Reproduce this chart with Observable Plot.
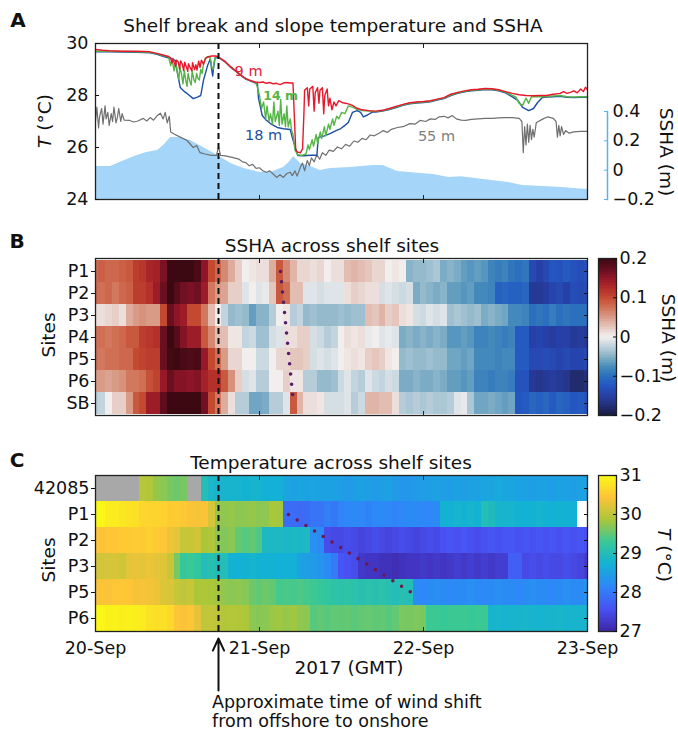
<!DOCTYPE html>
<html><head><meta charset="utf-8">
<script src="https://cdn.jsdelivr.net/npm/d3@7"></script>
<script src="https://cdn.jsdelivr.net/npm/@observablehq/plot@0.6"></script>
<style>
html,body{margin:0;padding:0;background:#fff;}
#fig{position:relative;width:678px;height:732px;font-family:"DejaVu Sans",sans-serif;color:#111;overflow:hidden}
#fig svg{position:absolute;left:0;top:0}
.lbl{position:absolute;white-space:nowrap;line-height:1;transform:translate(-50%,-50%);font-size:18.5px}
.rotL{transform:translate(-50%,-50%) rotate(-90deg)}
.rotR{transform:translate(-50%,-50%) rotate(90deg)}
.ann{position:absolute;white-space:nowrap;line-height:0.9;transform:translate(0,-50%);font-size:17.5px}
.panel{font-weight:bold;font-size:20px}
</style></head><body><div id="fig"></div><script>
// ---------------- DATA ----------------
const shiftHour = 18; // approximate wind shift (hours after 20-Sep 00:00 GMT)
// Panel A: [hour, value]
const ssha = [[0,0.025],[2.2,0.025],[4,0.06],[6.1,0.1],[7.5,0.12],[9.1,0.134],[10,0.17],[11,0.223],[12.4,0.223],[13.9,0.202],[15.8,0.154],[17.9,0.1],[19.8,0.045],[21.7,0.011],[24.1,-0.016],[25.6,-0.016],[27.5,0.018],[28.3,0.05],[29,0.093],[30,0.045],[31.5,0.025],[32.9,-0.002],[34.4,0.011],[37.3,0.018],[39,0.025],[40.7,0.032],[42.1,0.032],[44.2,-0.009],[46,-0.016],[47.6,-0.023],[49.5,-0.03],[51.7,-0.05],[53.5,-0.045],[55.6,-0.057],[58,-0.07],[60.4,-0.084],[62.5,-0.105],[65.4,-0.111],[68.3,-0.118],[70,-0.125],[72,-0.132]];
const t9m = [[0,29.77],[1,29.74],[2,29.72],[3,29.71],[4,29.7],[5,29.7],[6,29.7],[7,29.69],[8,29.68],[9,29.62],[10,29.55],[10.7,29.5],[11.0,29.45],[11.2,29.25],[11.35,29.42],[11.7,29.12],[11.85,29.36],[12.1,29.3],[12.3,29.02],[12.45,29.33],[12.7,29.2],[12.9,28.96],[13.05,29.28],[13.3,29.1],[13.5,28.93],[13.6,29.22],[13.9,29.05],[14.1,28.95],[14.2,29.26],[14.5,29.0],[14.7,29.18],[14.85,28.98],[15.1,29.32],[15.3,29.08],[15.5,29.36],[15.8,29.2],[16.1,29.42],[16.4,29.48],[17,29.52],[17.6,29.52],[18,29.48],[19,29.3],[19.8,29.1],[20.5,28.95],[21.2,28.8],[22,28.65],[22.7,28.57],[23.4,28.52],[24,28.5],[24.5,28.52],[25,28.47],[25.5,28.5],[26,28.45],[26.5,28.47],[27,28.42],[27.5,28.48],[28,28.5],[28.5,28.48],[28.9,28.48],[29.1,27.2],[29.3,25.9],[29.6,25.82],[30,25.8],[30.3,25.95],[30.5,27.3],[30.6,28.2],[31.0,28.3],[31.2,27.6],[31.35,28.25],[31.8,28.35],[32.0,27.4],[32.15,28.1],[32.5,28.3],[32.7,27.7],[32.85,28.2],[33.2,28.3],[33.4,27.3],[33.55,28.0],[33.9,28.25],[34.1,27.6],[34.3,27.9],[34.6,27.45],[34.9,27.75],[35.2,27.6],[35.6,27.8],[36.2,27.72],[37,27.68],[37.6,27.62],[38.2,27.52],[39,27.45],[40,27.42],[41,27.4],[42,27.43],[43,27.5],[44,27.58],[45,27.66],[46,27.72],[47,27.75],[48,27.77],[49,27.8],[50,27.86],[51,27.92],[52,28.05],[53,28.12],[54,28.18],[55,28.22],[56,28.24],[57,28.27],[58,28.26],[59,28.22],[60,28.15],[61,28.08],[62,28.03],[63,28.0],[64,27.99],[65,28.0],[66,28.0],[67,28.05],[68,28.08],[68.5,28.15],[69,28.08],[69.5,28.12],[70,28.18],[70.5,28.1],[71,28.25],[71.4,28.15],[71.7,28.32],[72,28.22]];
const t14m = [[0,29.7],[2,29.7],[4,29.69],[6,29.68],[8,29.66],[9,29.6],[10,29.53],[10.7,29.48],[11.0,29.15],[11.2,29.4],[11.5,28.95],[11.7,29.25],[11.9,29.0],[12.2,28.62],[12.35,29.1],[12.6,28.8],[12.8,28.45],[13.0,28.95],[13.2,28.6],[13.4,28.35],[13.55,28.85],[13.8,28.55],[14.0,28.4],[14.15,28.95],[14.4,28.6],[14.6,28.5],[14.8,28.85],[15.0,28.65],[15.2,28.6],[15.4,29.0],[15.6,28.85],[15.8,29.2],[16.1,29.45],[16.5,29.5],[16.8,29.45],[17.0,29.1],[17.2,29.0],[17.4,29.35],[17.6,29.5],[18,29.47],[19,29.3],[19.8,29.1],[20.5,28.95],[21.2,28.8],[22,28.65],[22.7,28.57],[23.4,28.5],[23.6,28.4],[24.0,28.0],[24.3,27.5],[24.6,27.75],[24.9,27.1],[25.1,27.6],[25.4,27.0],[25.6,27.3],[25.9,26.9],[26.1,27.75],[26.3,27.0],[26.7,27.4],[26.9,26.85],[27.1,27.85],[27.3,26.9],[27.6,27.3],[27.8,26.8],[28.0,27.6],[28.2,26.8],[28.5,27.1],[28.7,26.65],[28.9,26.5],[29.2,25.9],[29.6,25.72],[30.2,25.7],[30.8,25.75],[31.1,26.1],[31.3,25.92],[31.7,26.3],[31.9,26.05],[32.3,26.5],[32.5,26.15],[32.9,26.6],[33.1,26.35],[33.5,26.8],[33.7,26.45],[34.1,26.9],[34.3,26.7],[34.7,27.1],[34.9,26.85],[35.3,27.2],[35.6,27.1],[36,27.35],[36.5,27.3],[37,27.6],[37.6,27.55],[38.2,27.48],[39,27.42],[40,27.4],[41,27.38],[42,27.42],[43,27.48],[44,27.56],[45,27.64],[46,27.7],[47,27.73],[48,27.75],[49,27.78],[50,27.84],[51,27.9],[52,28.02],[53,28.1],[54,28.16],[55,28.2],[56,28.22],[57,28.25],[58,28.24],[59,28.2],[60,28.13],[61,28.0],[61.5,27.95],[62,27.7],[62.5,27.62],[63,27.9],[63.4,27.7],[63.8,27.95],[64.2,27.96],[65,27.95],[66,27.96],[67,27.98],[68,28.0],[69,27.95],[70,27.94],[71,27.95],[72,27.95]];
const t18m = [[0,29.68],[2,29.68],[4,29.67],[6,29.66],[8,29.64],[9,29.58],[10,29.5],[11,29.42],[11.7,29.35],[12.0,28.85],[12.4,28.31],[13.0,28.15],[13.4,28.08],[14.3,27.88],[15.0,27.95],[15.4,28.0],[15.8,28.58],[16.4,29.15],[16.8,29.4],[17.0,29.0],[17.15,28.75],[17.3,29.1],[17.5,29.45],[18,29.46],[19,29.28],[19.8,29.08],[20.5,28.93],[21.2,28.78],[22,28.63],[22.7,28.55],[23.4,28.48],[23.7,28.45],[23.85,27.9],[24.4,27.23],[25,27.05],[25.6,26.92],[26.6,26.77],[27.5,26.72],[28.5,26.69],[28.8,26.38],[29.6,25.69],[30.5,25.68],[31.5,25.7],[32.4,25.7],[32.6,26.38],[33.5,26.45],[34.4,26.54],[35.2,26.65],[35.9,26.73],[36.5,26.85],[37.0,26.96],[37.6,27.35],[38.3,27.42],[38.8,27.35],[39.2,27.18],[39.8,27.25],[40.5,27.36],[41,27.36],[42,27.4],[43,27.46],[44,27.54],[45,27.62],[46,27.68],[47,27.71],[48,27.73],[49,27.76],[50,27.82],[51,27.88],[52,28.0],[53,28.08],[54,28.14],[55,28.18],[56,28.2],[57,28.23],[58,28.22],[59,28.18],[60,28.1],[61,27.95],[61.8,27.81],[62.5,27.54],[63.4,27.42],[64.1,27.5],[64.7,27.73],[65.4,27.92],[66,27.94],[67,27.95],[68,27.97],[69,27.93],[70,27.92],[71,27.93],[72,27.93]];
const t55m = [[0,27.0],[0.2,27.55],[0.45,26.75],[0.6,27.2],[0.9,27.5],[1.1,26.9],[1.4,27.6],[1.55,27.1],[1.8,27.35],[2.0,26.85],[2.3,27.3],[2.5,27.0],[2.7,27.55],[3.0,26.95],[3.2,27.15],[3.4,27.5],[3.7,27.0],[3.9,27.3],[4.2,27.05],[5,27.04],[5.6,26.98],[6.2,27.02],[7,27.12],[7.5,27.02],[8,27.15],[8.5,27.05],[9,27.22],[9.5,27.32],[9.9,27.1],[10.2,27.35],[10.5,26.95],[10.8,27.2],[11.0,26.6],[11.5,26.52],[12.4,26.4],[13.4,26.27],[14.3,26.0],[14.8,26.08],[15.3,25.8],[16.0,25.75],[17.0,25.7],[17.7,25.7],[18.0,26.02],[18.3,25.7],[19,25.68],[20,25.62],[21,25.55],[21.5,25.45],[22,25.42],[22.5,25.3],[23,25.35],[23.5,25.2],[24,25.22],[24.5,25.1],[25,25.05],[25.5,25.1],[26,24.98],[26.5,24.85],[27,24.95],[27.5,24.85],[28,25.0],[28.5,25.05],[28.8,24.92],[29.2,25.1],[29.5,24.9],[30,25.25],[30.3,25.4],[30.6,25.1],[31,25.5],[31.3,25.3],[31.6,25.6],[32,25.45],[32.4,25.72],[32.8,25.55],[33.2,25.8],[33.7,25.7],[34.2,25.9],[34.8,25.85],[35.4,26.02],[36,25.95],[36.6,26.12],[37.2,26.05],[37.8,26.25],[38.4,26.2],[39,26.35],[39.6,26.3],[40.2,26.48],[40.8,26.45],[41.5,26.55],[42.1,26.65],[42.7,26.58],[43.3,26.7],[44.2,26.77],[45,26.8],[46,26.92],[46.8,26.9],[47.5,27.04],[48.3,27.0],[49,27.1],[49.7,27.08],[50.3,27.18],[51,27.2],[51.6,27.14],[52.2,27.23],[52.8,27.1],[53.5,27.05],[54.2,27.04],[55,27.08],[56,27.1],[57,27.12],[58,27.12],[59,27.14],[60,27.15],[61,27.15],[62,27.12],[62.4,27.0],[62.6,25.8],[62.8,26.8],[63.0,26.1],[63.2,26.9],[63.4,26.2],[63.6,26.85],[63.8,26.3],[64.0,26.7],[64.2,26.4],[64.5,26.95],[64.8,27.0],[65.5,27.1],[66.2,27.18],[67,27.12],[67.4,27.0],[67.6,26.4],[67.8,26.85],[68.0,26.45],[68.2,26.8],[68.5,26.5],[68.8,26.65],[69.3,26.55],[70,26.6],[71,26.62],[72,26.62]];
const lineLabels = [
  {h: 22.4, T: 28.93, text: "9 m", color: "#e3203a", size: 14.5, weight: "normal"},
  {h: 27.1, T: 28.0, text: "14 m", color: "#55b546", size: 12.5, weight: "bold"},
  {h: 24.6, T: 26.46, text: "18 m", color: "#1d4fa3", size: 14.5, weight: "normal"},
  {h: 49.9, T: 26.42, text: "55 m", color: "#808080", size: 14.5, weight: "normal"}
];
// Panel B: hourly SSHA (m), index = hour 0..72
const sitesB = ["P1","P2","P3","P4","P5","P6","SB"];
const sshaP1 = [.08,.085,.08,.08,.085,.09,.11,.115,.13,.135,.16,.2,.2,.2,.2,.19,.15,.1,.08,.06,.04,.02,0,.005,.01,.01,.04,.09,.06,.035,.015,.015,.01,.015,0,.01,.01,.03,.035,.03,.025,.015,.015,0,.005,0,-.05,-.045,-.045,-.04,-.035,-.055,-.05,-.055,-.065,-.07,-.065,-.07,-.085,-.09,-.085,-.095,-.1,-.095,-.14,-.15,-.14,-.125,-.13,-.12,-.13,-.135,-.13];
const sshaP2 = [.08,.075,.08,.07,.08,.085,.11,.11,.12,.14,.17,.2,.18,.165,.16,.165,.14,.07,.05,.045,.02,.02,-.01,0,-.01,-.005,.025,.09,.075,.03,.03,-.01,-.01,-.015,-.01,-.01,-.01,.01,.02,.015,.01,.01,-.015,-.01,-.015,-.02,-.015,-.055,-.045,-.05,-.055,-.05,-.065,-.065,-.07,-.065,-.08,-.08,-.085,-.115,-.11,-.115,-.115,-.11,-.16,-.16,-.155,-.145,-.14,-.15,-.135,-.14,-.135];
const sshaP3 = [.01,.01,.015,.02,.01,.04,.05,.055,.05,.05,.1,.17,.15,.14,.1,.1,.07,.03,0,-.025,-.045,-.04,-.045,-.065,-.05,-.05,-.03,0,.005,-.03,-.025,-.045,-.04,-.045,-.045,-.045,-.04,-.045,-.04,-.04,.03,.025,.035,.02,.025,.01,.005,-.015,-.02,-.01,-.015,-.01,-.04,-.035,-.04,-.045,-.04,-.055,-.05,-.055,-.06,-.08,-.08,-.085,-.1,-.095,-.1,-.09,-.1,-.095,-.1,-.1,-.1];
const sshaP4 = [.075,.075,.07,.075,.08,.09,.09,.11,.115,.12,.17,.2,.18,.155,.14,.14,.09,.06,.03,.03,.005,.005,-.025,-.02,-.04,-.04,-.015,-.01,.01,.01,.02,.02,-.015,-.02,-.03,-.025,0,.01,.005,.01,-.005,0,-.01,-.005,-.01,-.055,-.05,-.055,-.05,-.055,-.05,-.055,-.07,-.07,-.065,-.07,-.085,-.085,-.08,-.085,-.09,-.085,-.12,-.12,-.15,-.145,-.15,-.155,-.15,-.15,-.16,-.155,-.16];
const sshaP5 = [.075,.07,.075,.075,.08,.08,.1,.105,.11,.11,.17,.195,.2,.19,.185,.19,.145,.1,.075,.05,.015,.015,0,0,-.02,-.02,0,.015,.015,.025,.025,.02,-.015,-.01,-.015,-.01,0,.005,.01,.005,.02,.025,.02,.005,0,-.045,-.04,-.045,-.045,-.04,-.045,-.045,-.06,-.06,-.065,-.06,-.08,-.08,-.08,-.085,-.08,-.08,-.12,-.12,-.14,-.14,-.135,-.14,-.145,-.14,-.145,-.145,-.14];
const sshaP6 = [.05,.05,.045,.05,.055,.07,.07,.075,.095,.105,.145,.17,.155,.155,.15,.155,.135,.12,.12,.09,.055,.02,-.015,-.01,-.03,-.03,0,0,.02,.005,.005,-.03,-.03,-.045,-.045,-.04,-.02,-.01,-.025,-.03,-.01,-.02,-.025,-.015,-.02,-.055,-.055,-.05,-.055,-.055,-.05,-.055,-.065,-.065,-.07,-.065,-.085,-.085,-.09,-.085,-.085,-.09,-.13,-.13,-.16,-.165,-.16,-.155,-.16,-.165,-.18,-.18,-.175];
const sshaSB = [-.03,-.025,0,.02,.02,.05,.09,.1,.14,.14,.175,.2,.2,.2,.2,.2,.165,.1,.07,.04,.01,-.03,-.03,-.06,-.06,-.055,-.03,-.03,-.01,.09,.035,.01,.01,.005,-.015,-.015,-.015,-.01,-.03,-.02,.035,.035,.03,.03,.01,-.03,-.035,-.03,-.035,-.03,-.035,-.035,-.03,-.01,-.005,-.035,-.06,-.06,-.055,-.06,-.065,-.06,-.125,-.12,-.11,-.115,-.11,-.12,-.11,-.115,-.125,-.12,-.13];
const dotB = [{h: 27.07, site: "P1"}, {h: 28.98, site: "SB"}];
// Panel C: hourly temperature (°C), null = no data
const sitesC = ["42085","P1","P2","P3","P5","P6"];
const temp42085 = [null,null,null,null,null,null,null,29.95,29.9,29.75,29.7,29.6,29.55,29.6,null,null,29.0,28.85,28.8,28.8,28.78,28.8,28.75,28.8,28.78,28.72,28.7,28.72,28.55,28.5,28.55,28.5,28.52,28.5,28.48,28.5,28.45,28.4,28.45,28.5,28.45,28.4,28.45,28.5,28.4,28.35,28.35,28.4,28.45,28.45,28.5,28.45,28.45,28.5,28.45,28.5,28.5,28.55,28.55,28.6,28.55,28.55,28.5,28.5,28.45,28.5,28.5,28.45,28.5,28.5,28.45,28.5,28.5];
const tempP1 = [30.95,30.95,30.85,30.85,30.8,30.75,30.72,30.62,30.6,30.6,30.58,30.5,30.52,30.48,30.4,30.38,30.4,30.15,29.75,29.72,29.75,29.7,29.72,29.75,29.7,29.72,29.85,29.82,27.85,27.85,27.82,27.85,27.95,27.95,28.05,27.98,28.12,28.15,28.18,28.15,28.1,28.15,28.2,28.15,28.12,28.15,28.2,28.18,28.15,28.15,28.2,28.75,28.72,28.78,28.75,28.8,28.75,29.0,28.95,28.8,28.8,28.8,28.75,28.72,28.75,28.78,28.75,28.72,28.75,28.75,28.72,null,null];
const tempP2 = [30.45,30.42,30.45,30.45,30.5,30.5,30.52,30.5,30.55,30.5,30.45,30.3,30.25,30.05,30.05,30.1,29.85,29.9,29.7,29.65,29.7,29.5,29.45,29.5,29.4,28.9,28.88,28.9,28.85,28.9,28.85,28.9,28.25,28.2,27.5,27.45,27.45,27.5,27.45,27.4,27.45,27.5,27.45,27.4,27.45,27.5,27.45,27.4,27.45,27.5,27.45,27.55,27.6,27.55,27.6,27.55,27.5,27.55,27.6,27.55,27.6,27.6,27.55,27.6,27.55,27.6,27.55,27.6,27.55,27.6,27.55,27.6,27.55];
const tempP3 = [30.15,30.12,30.15,30.15,30.1,30.25,30.28,30.25,30.3,30.25,30.22,30.05,29.6,29.25,29.3,29.2,29.0,29.05,28.95,29.0,28.75,28.72,28.75,28.78,28.75,28.72,28.75,28.7,28.72,28.7,28.5,28.45,28.4,28.3,28.2,28.0,27.6,27.55,27.5,27.25,27.2,27.2,27.15,27.15,27.1,27.15,27.2,27.2,27.25,27.2,27.25,27.2,27.25,27.3,27.25,27.3,27.25,27.3,27.25,27.3,27.3,27.7,27.7,27.45,27.5,27.45,27.5,27.45,27.45,27.5,27.45,27.4,27.3];
const tempP5 = [30.4,30.42,30.4,30.45,30.48,30.45,30.35,30.38,30.35,30.3,30.2,30.18,30.05,30.0,30.05,29.85,29.88,29.85,29.8,29.72,29.7,29.72,29.68,29.55,29.5,29.55,29.5,29.35,29.38,29.35,29.4,29.35,29.32,29.25,29.2,29.15,29.1,29.15,29.1,29.05,29.1,29.05,29.1,29.05,29.0,29.05,29.0,28.2,28.15,28.2,28.25,28.2,28.15,28.2,28.2,28.25,28.2,28.15,28.2,28.25,28.2,28.2,28.15,28.2,28.25,28.2,28.2,28.15,28.2,28.25,28.2,28.2,28.3];
const tempP6 = [30.98,30.95,30.9,30.92,30.88,30.9,30.88,30.85,30.75,30.7,30.72,30.65,30.45,30.4,30.45,30.25,30.0,30.02,29.98,29.9,29.92,29.9,29.88,29.7,29.68,29.7,29.78,29.8,29.75,29.8,29.72,29.7,29.45,29.5,29.45,29.5,29.48,29.5,29.45,29.5,29.52,29.48,29.5,29.45,29.5,29.62,29.6,29.65,29.6,29.3,29.32,29.28,29.3,29.3,29.32,29.28,29.3,29.3,28.8,28.82,28.78,28.8,28.8,28.82,28.8,28.78,28.8,28.8,28.82,28.78,28.8,28.8,28.8];
const dotC = [{h: 28.24, site: "P1"}, {h: 46.24, site: "P5"}];
const dateTicks = [0, 24, 48, 72];

// ---------------- SETUP ----------------
const base = Date.UTC(2017, 8, 20);
const T = h => new Date(base + h * 3600e3);
const W = 678, H = 732, X0 = 95, X1 = 587;
const fig = document.getElementById("fig");
const add = n => (fig.appendChild(n), n);
const style = {background: "transparent", fontFamily: "DejaVu Sans, sans-serif", fontSize: "17.5px", overflow: "visible", color: "#111"};
const box = (top, bottom, left = X0, right = X1) => ({width: W, height: H, marginTop: top, marginBottom: H - bottom, marginLeft: left, marginRight: W - right, style});
const xs = () => ({type: "utc", domain: [T(0), T(72)], range: [X0, X1], axis: null});
const innerTicks = [T(24), T(48)];
const xInner = () => [
  Plot.axisX({anchor: "bottom", ticks: innerTicks, tickSize: 4, dy: -4, fill: "none", label: null, stroke: "#222"}),
  Plot.axisX({anchor: "top", ticks: innerTicks, tickSize: 4, dy: 4, fill: "none", label: null, stroke: "#222"})
];
const dashed = () => Plot.ruleX([shiftHour], {x: T, stroke: "#111", strokeWidth: 2, strokeDasharray: "6,4"});
const fmt1 = d => d === 0 ? "0" : d3.format(".1f")(d);
const fmtInt = d => String(d);
const sshaColor = {type: "linear", clamp: true,
  domain: [-0.2,-0.175,-0.15,-0.125,-0.1,-0.075,-0.05,-0.025,0,0.025,0.05,0.075,0.1,0.125,0.15,0.175,0.2],
  range: ["#181c43","#23307a","#2740a8","#2456c2","#2a70bd","#4b8fbb","#88b3c8","#c2d4dd","#f1eeed","#e5c6bd","#d99a86","#cf7055","#c34a31","#b02a28","#8e1528","#5e0d1e","#3c0912"]};
const tempColor = {type: "linear", clamp: true,
  domain: [27, 27.571, 28.143, 28.714, 29.286, 29.857, 30.429, 31],
  range: ["#3e26a8","#4852f4","#2e87f7","#12b1d6","#37c897","#abc739","#fec338","#f9fb15"]};
function cells(sites, arrays) {
  const out = [];
  sites.forEach((s, k) => arrays[k].forEach((v, i) => out.push({site: s, h1: Math.max(0, i - 0.5), h2: Math.min(72, i + 0.5), v})));
  return out;
}
const P = d => T(d[0]), V = d => d[1];

// ---------------- PANEL A ----------------
add(Plot.plot({
  ...box(111, 199, X0, 607),
  x: xs(), y: {domain: [-0.2, 0.4], axis: null},
  marks: [
    Plot.areaY(ssha, {x: P, y1: -0.2, y2: V, fill: "#a5d5f8"}),
    Plot.frame({anchor: "right", stroke: "#5ab2e6", strokeWidth: 1.5}),
    Plot.axisY({anchor: "right", ticks: [-0.2, 0, 0.2, 0.4], tickSize: 0, tickPadding: 5, tickFormat: fmt1, label: null}),
    Plot.axisY({anchor: "right", ticks: [-0.2, 0, 0.2, 0.4], tickSize: 4, dx: -4, fill: "none", stroke: "#5ab2e6", label: null})
  ]
}));
add(Plot.plot({
  ...box(43, 199),
  x: xs(), y: {domain: [24, 30], axis: null},
  marks: [
    Plot.line(t55m, {x: P, y: V, stroke: "#707070", strokeWidth: 1.2}),
    Plot.line(t18m, {x: P, y: V, stroke: "#1d4fa3", strokeWidth: 1.4}),
    Plot.line(t14m, {x: P, y: V, stroke: "#55b546", strokeWidth: 1.4}),
    Plot.line(t9m, {x: P, y: V, stroke: "#e8182c", strokeWidth: 1.4}),
    ...lineLabels.map(l => Plot.text([l], {x: d => T(d.h), y: "T", text: "text", fill: l.color, fontSize: l.size, fontWeight: l.weight})),
    dashed(),
    Plot.frame({stroke: "#222", strokeWidth: 1.3}),
    Plot.axisY({anchor: "left", ticks: [24, 26, 28, 30], tickSize: 0, tickPadding: 7, tickFormat: fmtInt, label: null}),
    Plot.axisY({anchor: "left", ticks: [24, 26, 28, 30], tickSize: 4, dx: 4, fill: "none", label: null}),
    ...xInner()
  ]
}));

// ---------------- PANEL B ----------------
add(Plot.plot({
  ...box(258, 415),
  x: xs(), y: {type: "band", domain: sitesB, padding: 0, axis: null}, color: sshaColor,
  marks: [
    Plot.barX(cells(sitesB, [sshaP1, sshaP2, sshaP3, sshaP4, sshaP5, sshaP6, sshaSB]), {x1: d => T(d.h1), x2: d => T(d.h2), y: "site", fill: "v", shapeRendering: "crispEdges"}),
    Plot.line(dotB, {x: d => T(d.h), y: "site", stroke: "#521d6c", strokeWidth: 3.6, strokeDasharray: "0,10.3", strokeLinecap: "round"}),
    dashed(),
    Plot.frame({stroke: "#222", strokeWidth: 1.3}),
    Plot.axisY({anchor: "left", tickSize: 4, tickPadding: 2, label: null}),
    Plot.axisY({anchor: "right", tickSize: 4, dx: -4, fill: "none", label: null}),
    ...xInner()
  ]
}));
const rampB = d3.range(-0.2, 0.2 - 1e-9, 0.004);
add(Plot.plot({
  ...box(258, 415, 598, 616),
  x: {domain: [0, 1], axis: null}, y: {domain: [-0.2, 0.2], axis: null}, color: sshaColor,
  marks: [
    Plot.rect(rampB, {x1: 0, x2: 1, y1: d => d, y2: d => d + 0.004, fill: d => d + 0.002, shapeRendering: "crispEdges"}),
    Plot.frame({stroke: "#222", strokeWidth: 1.3}),
    Plot.axisY({anchor: "right", ticks: [-0.2, -0.1, 0, 0.1, 0.2], tickSize: 0, tickPadding: 3, tickFormat: fmt1, label: null}),
    Plot.axisY({anchor: "right", ticks: [-0.2, -0.1, 0, 0.1, 0.2], tickSize: 4, dx: -4, fill: "none", label: null})
  ]
}));

// ---------------- PANEL C ----------------
const cellsC = cells(sitesC, [temp42085, tempP1, tempP2, tempP3, tempP5, tempP6]);
add(Plot.plot({
  ...box(475, 631),
  x: xs(), y: {type: "band", domain: sitesC, padding: 0, axis: null}, color: tempColor,
  marks: [
    Plot.barX(cellsC.filter(d => d.v == null && d.site === "42085"), {x1: d => T(d.h1), x2: d => T(d.h2), y: "site", fill: "#a8a8a8", shapeRendering: "crispEdges"}),
    Plot.barX(cellsC.filter(d => d.v != null), {x1: d => T(d.h1), x2: d => T(d.h2), y: "site", fill: "v", shapeRendering: "crispEdges"}),
    Plot.line(dotC, {x: d => T(d.h), y: "site", stroke: "#6a1a4f", strokeWidth: 3.6, strokeDasharray: "0,10.3", strokeLinecap: "round"}),
    dashed(),
    Plot.frame({stroke: "#222", strokeWidth: 1.3}),
    Plot.axisY({anchor: "left", tickSize: 4, tickPadding: 2, label: null}),
    Plot.axisY({anchor: "right", tickSize: 4, dx: -4, fill: "none", label: null}),
    Plot.axisX({anchor: "bottom", ticks: dateTicks.map(T), tickFormat: d => d.getUTCDate() + "-Sep", tickSize: 0, tickPadding: 10, label: null}),
    ...xInner()
  ]
}));
const rampC = d3.range(27, 31 - 1e-9, 0.04);
add(Plot.plot({
  ...box(475, 631, 598, 616),
  x: {domain: [0, 1], axis: null}, y: {domain: [27, 31], axis: null}, color: tempColor,
  marks: [
    Plot.rect(rampC, {x1: 0, x2: 1, y1: d => d, y2: d => d + 0.04, fill: d => d + 0.02, shapeRendering: "crispEdges"}),
    Plot.frame({stroke: "#222", strokeWidth: 1.3}),
    Plot.axisY({anchor: "right", ticks: [27, 28, 29, 30, 31], tickSize: 0, tickPadding: 3, tickFormat: fmtInt, label: null}),
    Plot.axisY({anchor: "right", ticks: [27, 28, 29, 30, 31], tickSize: 4, dx: -4, fill: "none", label: null})
  ]
}));
// arrow annotation (y: 0 = tail, 1 = head)
add(Plot.plot({
  ...box(638, 690),
  x: xs(), y: {domain: [0, 1], axis: null},
  marks: [Plot.arrow([shiftHour], {x1: T, x2: T, y1: () => 0, y2: () => 1, stroke: "#111", strokeWidth: 2, headLength: 10, headAngle: 50})]
}));

// ---------------- TEXT ----------------
const texts = [
  ["lbl panel", 18, 20, "A"], ["lbl panel", 17, 240.5, "B"], ["lbl panel", 17, 460, "C"],
  ["lbl", 333, 25.5, "Shelf break and slope temperature and SSHA"],
  ["lbl", 332, 246, "SSHA across shelf sites"],
  ["lbl", 331, 463, "Temperature across shelf sites"],
  ["lbl rotL", 45, 121, "<i>T</i> (°C)"],
  ["lbl rotL", 49, 335, "Sites"],
  ["lbl rotL", 49, 560, "Sites"],
  ["lbl rotR", 666, 152, "SSHA (m)"],
  ["lbl rotR", 668, 338, "SSHA (m)"],
  ["lbl rotR", 664, 555, "<i>T</i> (°C)"],
  ["lbl", 349, 668, "2017 (GMT)"],
  ["ann", 212, 703, "Approximate time of wind shift"],
  ["ann", 212, 722, "from offshore to onshore"]
];
for (const [cls, x, y, html] of texts) {
  const d = document.createElement("div");
  d.className = cls; d.style.left = x + "px"; d.style.top = y + "px"; d.innerHTML = html;
  fig.appendChild(d);
}
</script></body></html>
